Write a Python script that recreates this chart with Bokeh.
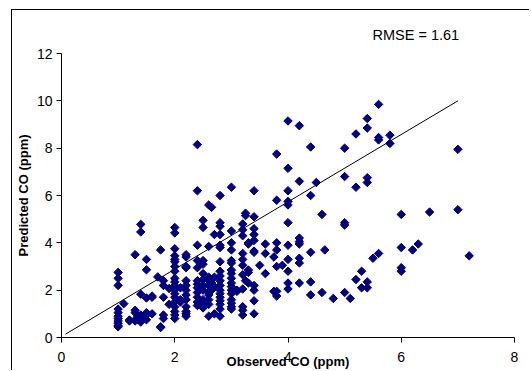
import math
from bokeh.plotting import figure
from bokeh.models import Range1d, FixedTicker
from bokeh.embed import file_html
from bokeh.resources import INLINE

# Observed CO values (columns) and the predicted CO values plotted at each
col_obs = [1.0, 1.1, 1.2, 1.3, 1.35, 1.4, 1.5, 1.6, 1.7, 1.75, 1.8, 1.9, 2.0, 2.1, 2.2,
           2.4, 2.5, 2.6, 2.65, 2.7, 2.8, 3.0, 3.1, 3.2, 3.25, 3.3, 3.4, 3.5, 3.6,
           3.75, 3.8, 3.9, 4.0, 4.2, 4.4, 4.5, 4.6, 4.65, 4.8, 5.0, 5.1, 5.2, 5.3,
           5.4, 5.5, 5.6, 5.8, 6.0, 6.2, 6.3, 6.5, 7.0, 7.2]
col_pred = [
    [2.75, 2.5, 2.2, 1.2, 1.05, 0.9, 0.8, 0.7, 0.6, 0.5, 0.45],
    [1.43],
    [0.74, 0.7],
    [3.5, 1.15, 1.05, 0.75, 0.7],
    [0.9, 0.75],
    [4.78, 4.46, 1.83, 0.95, 0.8, 0.65],
    [3.3, 2.86, 1.67, 1.05, 0.95, 0.75],
    [1.75, 1.7, 1.0],
    [2.56],
    [3.7, 0.45, 0.42],
    [2.4, 2.2, 1.7, 0.95, 0.8],
    [2.07, 1.4],
    [4.65, 4.42, 3.75, 3.45, 3.3, 3.2, 3.0, 2.8, 2.5, 2.35, 2.2, 2.0, 1.85, 1.7,
     1.5, 1.3, 1.1, 0.95, 0.8],
    [1.6, 1.5, 2.1],
    [3.5, 3.4, 3.0, 2.95, 2.4, 2.2, 2.0, 1.8, 1.6, 1.3, 1.1, 1.0, 0.9],
    [8.15, 6.2, 3.9, 3.25, 2.95, 2.4, 2.25, 2.1, 1.9, 1.7, 1.5, 1.35],
    [4.95, 4.65, 3.25, 3.1, 2.7, 2.45, 2.2, 2.0, 1.6, 1.4, 1.25],
    [5.6, 3.85, 2.55, 2.4, 2.2, 1.9, 1.8, 1.6, 1.4, 0.9],
    [5.5, 2.3, 2.0],
    [4.35, 2.55, 2.15, 1.0],
    [6.0, 4.85, 4.7, 4.35, 3.9, 3.8, 3.2, 2.8, 2.6, 2.4, 2.2, 2.0, 1.85, 1.7,
     1.55, 1.4, 1.2, 0.9],
    [6.35, 4.5, 4.0, 3.7, 3.25, 3.15, 2.85, 2.7, 2.5, 2.3, 2.15, 2.0, 1.85, 1.6,
     1.45, 1.3, 1.2],
    [2.0, 1.95],
    [4.8, 4.55, 4.3, 3.55, 3.3, 3.05, 2.65, 2.05, 1.3, 1.15, 0.95],
    [5.25, 5.15, 2.4],
    [4.0, 3.95, 2.85, 2.75, 2.3],
    [6.2, 5.1, 4.6, 4.35, 4.1, 3.65, 3.6, 2.2, 2.0, 1.55, 1.0],
    [3.05],
    [3.95, 3.55, 2.7],
    [3.4, 1.95],
    [7.75, 5.8, 4.0, 3.7, 3.0, 1.95, 1.75],
    [3.05],
    [9.15, 7.15, 6.2, 5.75, 5.6, 4.85, 3.9, 3.3, 2.8, 2.3, 2.05],
    [8.95, 6.6, 4.2, 4.05, 3.95, 3.35, 3.15, 2.3],
    [8.05, 6.0, 3.6, 2.35, 1.8],
    [6.55],
    [5.2, 1.9],
    [3.7],
    [1.65],
    [8.0, 6.8, 4.85, 4.75, 1.9],
    [1.65],
    [8.6, 6.35, 2.45],
    [2.8, 2.1],
    [9.25, 8.85, 6.75, 6.55, 2.35, 2.1],
    [3.35],
    [9.85, 8.45, 8.35, 3.55],
    [8.55, 8.2],
    [5.2, 3.8, 2.95, 2.8],
    [3.7],
    [3.95],
    [5.3],
    [7.95, 5.4],
    [3.45],
]

# reference line
line_x = [0.07, 7.0]
line_y = [0.14, 10.0]

x_ticks = [0, 2, 4, 6, 8]
y_ticks = [0, 2, 4, 6, 8, 10, 12]
rmse_text = "RMSE = 1.61"

obs = []
pred = []
for xv, ys in zip(col_obs, col_pred):
    for yv in ys:
        obs.append(xv)
        pred.append(yv)

FONT = "Liberation Sans"

p = figure(width=518, height=361, output_backend="svg", toolbar_location=None,
           x_range=Range1d(0, 8), y_range=Range1d(0, 12),
           min_border_left=49, min_border_right=16, min_border_top=43,
           min_border_bottom=33, title=rmse_text)
p.styles = {"margin-left": "11px", "margin-top": "9px",
            "border-left": "1px solid black", "border-top": "1px solid black"}
p.outline_line_color = None
p.xgrid.visible = False
p.ygrid.visible = False
p.background_fill_color = "white"
p.border_fill_color = "white"

p.title.text_font = FONT
p.title.text_font_size = "14.5px"
p.title.text_font_style = "normal"
p.title.text_color = "black"
p.title.align = "left"
p.title.offset = 311
p.title.standoff = 22

p.line(line_x, line_y, line_color="black", line_width=1)
p.scatter(obs, pred, marker="square", angle=math.pi / 4, size=6,
          fill_color="#000080", line_color="#000080", line_width=1)

for ax in (p.xaxis[0], p.yaxis[0]):
    ax.axis_line_color = "black"
    ax.major_tick_line_color = "black"
    ax.minor_tick_line_color = None
    ax.major_tick_in = 0
    ax.major_tick_out = 5
    ax.major_label_text_font = FONT
    ax.major_label_text_font_size = "14px"
    ax.major_label_text_color = "black"
    ax.axis_label_text_font = FONT
    ax.axis_label_text_font_size = "13px"
    ax.axis_label_text_font_style = "bold"
    ax.axis_label_text_color = "black"

p.xaxis[0].ticker = FixedTicker(ticks=x_ticks)
p.yaxis[0].ticker = FixedTicker(ticks=y_ticks)
p.xaxis[0].axis_label = "Observed CO (ppm)"
p.yaxis[0].axis_label = "Predicted CO (ppm)"
p.xaxis[0].major_label_standoff = 9
p.xaxis[0].axis_label_standoff = -11
p.yaxis[0].major_label_standoff = 4
p.yaxis[0].axis_label_standoff = 3

open("out.html", "w").write(file_html(p, INLINE))
